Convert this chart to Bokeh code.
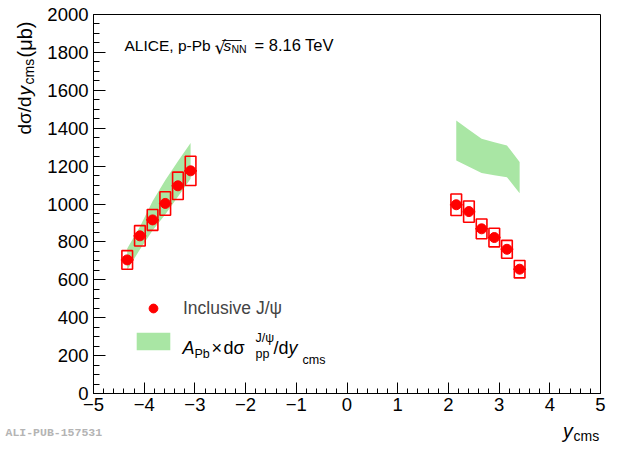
import numpy as np
from bokeh.plotting import figure
from bokeh.models import (Range1d, FixedTicker, Label, Legend, LegendItem, LinearAxis)
from bokeh.embed import file_html
from bokeh.resources import INLINE

# ---------------- data ----------------
bin_half_width = 0.125
rap_bwd = [-4.335, -4.085, -3.835, -3.585, -3.335, -3.085]
xsec_bwd = [705, 832, 916, 1003, 1096, 1175]
syst_bwd = [49, 54, 55, 62, 72, 77]

rap_fwd = [2.155, 2.405, 2.655, 2.905, 3.155, 3.405]
xsec_fwd = [996, 960, 869, 823, 761, 656]
syst_fwd = [57, 56, 52, 49, 47, 46]

band_bwd_low = [652, 760, 860, 945, 1038, 1133]
band_bwd_high = [765, 880, 1015, 1125, 1225, 1322]
band_fwd_low = [1230, 1196, 1163, 1152, 1141, 1057]
band_fwd_high = [1441, 1392, 1344, 1326, 1309, 1221]

x_ticks = [-5, -4, -3, -2, -1, 0, 1, 2, 3, 4, 5]
y_ticks = [0, 200, 400, 600, 800, 1000, 1200, 1400, 1600, 1800, 2000]

RED = "#ff0000"
GREEN = "#a9e6a4"
FONT = "Liberation Sans"

# ---------------- geometry (pixels of the axes box inside the canvas) ----------------
X0, X1, Y0, Y1 = -5, 5, 0, 2000
FR_L, FR_R, FR_T, FR_B = 93, 600, 14, 393
W, H = 612, 442
SX = (FR_R - FR_L) / (X1 - X0)
SY = (FR_B - FR_T) / (Y1 - Y0)


def dx(px):
    return X0 + (px - FR_L) / SX


def dy(py):
    return Y0 + (FR_B - py) / SY


p = figure(width=W, height=H, output_backend="svg", toolbar_location=None,
           x_range=Range1d(dx(0), dx(W)), y_range=Range1d(dy(H), dy(0)),
           x_axis_location=None, y_axis_location=None,
           min_border=0, min_border_left=0, min_border_right=0,
           min_border_top=0, min_border_bottom=0, title=None)
p.grid.visible = False
p.background_fill_color = "white"
p.border_fill_color = "white"
p.outline_line_color = None


def style_axis(ax):
    ax.axis_line_color = "black"
    ax.axis_line_width = 1
    ax.major_tick_line_color = "black"
    ax.minor_tick_line_color = "black"
    ax.major_tick_out = 0
    ax.minor_tick_out = 0
    ax.major_label_text_font = FONT
    ax.major_label_text_font_size = "18.5px"
    ax.major_label_text_color = "black"


xaxis = LinearAxis(fixed_location=Y0, bounds=(X0, X1),
                   ticker=FixedTicker(ticks=x_ticks,
                                      minor_ticks=list(np.round(np.arange(-5, 5.0001, 0.2), 3))))
style_axis(xaxis)
xaxis.major_label_overrides = {t: str(t).replace("-", "\u2212") for t in x_ticks}
xaxis.major_tick_in = 11
xaxis.minor_tick_in = 5
xaxis.major_label_standoff = 4
p.add_layout(xaxis, "below")

yaxis = LinearAxis(fixed_location=X0, bounds=(Y0, Y1),
                   ticker=FixedTicker(ticks=y_ticks,
                                      minor_ticks=list(np.arange(0, 2001, 50))))
style_axis(yaxis)
yaxis.major_tick_in = 12
yaxis.minor_tick_in = 6
yaxis.major_label_standoff = 5
p.add_layout(yaxis, "left")

# frame top / right edges
for loc, fixed, bnds in (("above", Y1, (X0, X1)), ("right", X1, (Y0, Y1))):
    ax = LinearAxis(fixed_location=fixed, bounds=bnds, ticker=FixedTicker(ticks=[]))
    style_axis(ax)
    ax.major_tick_in = 0
    ax.minor_tick_in = 0
    ax.major_label_text_font_size = "0px"
    p.add_layout(ax, loc)

# bands
band_b = p.varea(x=rap_bwd, y1=band_bwd_low, y2=band_bwd_high,
                 fill_color=GREEN, fill_alpha=1)
band_f = p.varea(x=rap_fwd, y1=band_fwd_low, y2=band_fwd_high,
                 fill_color=GREEN, fill_alpha=1)

# data
for rap, xs, sy in ((rap_bwd, xsec_bwd, syst_bwd), (rap_fwd, xsec_fwd, syst_fwd)):
    rap = np.array(rap)
    xs = np.array(xs)
    sy = np.array(sy)
    p.rect(x=rap, y=xs, width=0.21, height=2 * sy, fill_alpha=0,
           line_color=RED, line_width=1.6)
    p.segment(x0=rap - bin_half_width, x1=rap + bin_half_width, y0=xs, y1=xs,
              line_color=RED, line_width=1.6)
pts = p.scatter(x=rap_bwd + rap_fwd, y=xsec_bwd + xsec_fwd, marker="circle",
                size=10, fill_color=RED, line_color=RED)

# legend (glyphs)
legend = Legend(items=[LegendItem(label="Inclusive J/\u03c8", renderers=[pts]),
                       LegendItem(label=" ", renderers=[band_b])],
                location=(132, H - 352),
                glyph_width=42, glyph_height=22, spacing=11, label_standoff=9,
                label_height=22,
                label_text_font=FONT, label_text_font_size="17.5px",
                padding=0, margin=0, border_line_alpha=0,
                background_fill_alpha=0)
p.add_layout(legend, "center")


def lab(px, py, text, size, style="normal", angle=0, font=FONT, color="black"):
    p.add_layout(Label(x=dx(px), y=dy(py), text=text, text_font=font,
                       text_font_size=f"{size}px", text_font_style=style,
                       text_align="left", text_baseline="alphabetic",
                       angle=angle, text_color=color))


# second legend entry text
lab(182, 347, "A", 18, "italic")
lab(194, 353, "Pb", 12.5)
lab(211, 347, "\u00d7", 18)
lab(223, 347, "d\u03c3", 18)
lab(255, 337, "J/\u03c8", 12.5)
lab(255, 353, "pp", 12.5)
lab(273, 347, "/d", 18)
lab(288, 347, "y", 18, "italic")
lab(302, 359, "cms", 12.5)

# ALICE label
lab(124, 44.5, "ALICE, p-Pb", 15.5)
lab(214, 47, "\u221a", 18, font="DejaVu Sans")
lab(223, 44.5, "s", 15.5, "italic")
lab(231, 48, "NN", 10.5)
lab(222, 46, "\u203e\u203e\u203e\u203e", 14)
lab(254, 44.5, "= 8.16 TeV", 16.5)

# y-axis title (rotated)
ang = np.pi / 2
YT = 24
lab(YT, 134, "d\u03c3/d", 19, angle=ang)
lab(YT, 95, "y", 19, "italic", angle=ang)
lab(YT + 4.5, 84, "cms", 14, angle=ang)
lab(YT, 57, "(\u03bcb)", 20, angle=ang)

# x-axis title
lab(562.5, 430, "y", 19.5, "italic")
lab(573, 435, "cms", 14)

# watermark
lab(5, 432, "ALI-PUB-157531", 11.5, "bold", font="Liberation Mono", color="#b4b4b4")

open("out.html", "w").write(file_html(p, INLINE))
